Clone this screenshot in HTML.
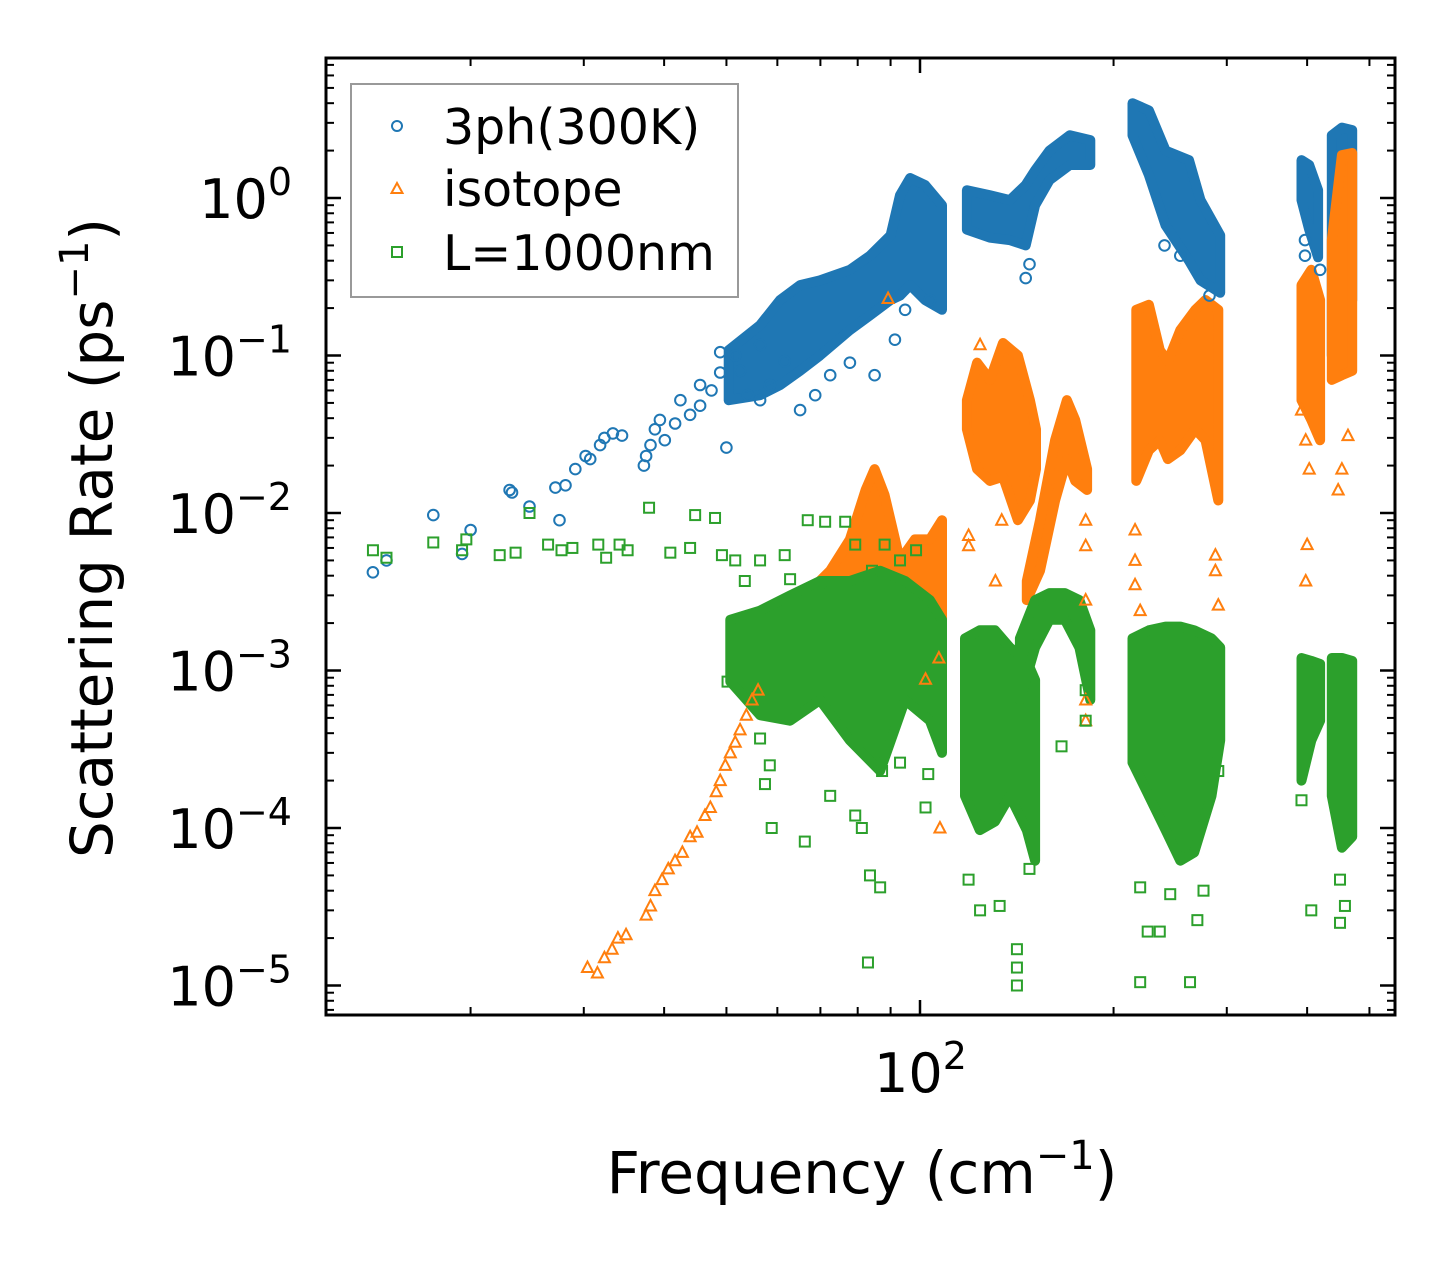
<!DOCTYPE html>
<html><head><meta charset="utf-8"><style>
html,body{margin:0;padding:0;background:#fff;}
svg{display:block;font-family:"DejaVu Sans","Liberation Sans",sans-serif;}
</style></head><body>
<svg id="chart" width="1455" height="1265" viewBox="0 0 1455 1265" xmlns="http://www.w3.org/2000/svg">
<rect width="1455" height="1265" fill="#fff"/>
<g id="blobs"></g>
<g id="marks"></g>
<g id="axes"></g>
<g>
<rect x="351" y="84" width="387" height="213" fill="#fff" fill-opacity="0.85" stroke="#999" stroke-width="2"/>
<circle cx="397" cy="126" r="5" fill="none" stroke="#1f77b4" stroke-width="2"/>
<path d="M397,183 L402.5,193 L391.5,193 Z" fill="none" stroke="#ff7f0e" stroke-width="2"/>
<rect x="392" y="247" width="10" height="10" fill="none" stroke="#2ca02c" stroke-width="2"/>
<text x="443" y="144" font-size="49">3ph(300K)</text>
<text x="443" y="206" font-size="49">isotope</text>
<text x="443" y="270" font-size="49">L=1000nm</text>
</g>
<text x="862" y="1193" font-size="58" text-anchor="middle">Frequency (cm<tspan dy="-24" font-size="40">−1</tspan><tspan dy="24">)</tspan></text>
<text transform="translate(112,538) rotate(-90)" font-size="58" text-anchor="middle">Scattering Rate (ps<tspan dy="-24" font-size="40">−1</tspan><tspan dy="24">)</tspan></text>
</svg>
<script>
// ---- data ----
const blueF=[14.1,14.8,17.5,20,19.4,23,23.2,24.7,27.1,27.5,28.1,29.1,30.2,30.7,31.8,32.3,33.3,34.4,37.2,37.5,38.1,38.7,39.4,40.1,41.6,42.4,43.9,45.5,45.5,47.4,48.9,50,52.5,54,56.4,58.4,61.6,65.1,68.7,72.5,77.8,85,91.4,94.8,103.6,56.4,48.9,51.6,146,148,240,254,282,397,397,419];
const blueR=[0.0042,0.005,0.0097,0.0078,0.0055,0.014,0.0135,0.011,0.0145,0.009,0.015,0.019,0.023,0.022,0.027,0.030,0.032,0.031,0.020,0.023,0.027,0.034,0.039,0.029,0.037,0.052,0.042,0.048,0.065,0.06,0.078,0.026,0.08,0.056,0.052,0.065,0.092,0.045,0.056,0.075,0.09,0.075,0.126,0.195,0.225,0.117,0.105,0.10,0.31,0.38,0.5,0.43,0.24,0.54,0.43,0.35];
const orangeF=[30.4,31.5,32.3,33.2,33.9,34.9,37.5,38.1,38.7,39.7,40.6,41.6,42.7,43.9,45,46.3,47.2,48.2,48.9,49.8,50.7,51.6,52.5,53.7,54.8,56,89.2,107.4,124,119,119,134,131,181,181,181,181,181,216,216,216,220,288,288,291,398,392,398,403,447,453,463,400,107,102];
const orangeR=[1.3e-5,1.2e-5,1.5e-5,1.7e-5,2.0e-5,2.1e-5,2.8e-5,3.2e-5,4.0e-5,4.7e-5,5.5e-5,6.2e-5,7e-5,8.8e-5,9.4e-5,1.2e-4,1.35e-4,1.7e-4,2e-4,2.5e-4,3e-4,3.5e-4,4.2e-4,5.2e-4,6.5e-4,7.5e-4,0.23,1.0e-4,0.117,0.0072,0.0062,0.009,0.0037,0.009,0.0062,0.0028,0.00048,0.00065,0.0078,0.005,0.0035,0.0024,0.0054,0.0043,0.0026,0.0037,0.045,0.029,0.019,0.014,0.019,0.031,0.0063,0.0012,0.00088];
const greenF=[14.1,14.8,17.5,19.7,19.4,22.2,23.5,24.7,26.4,27.7,28.8,31.6,32.5,34.1,35.1,37.9,40.9,43.9,44.7,48,49.2,51.6,56.4,53.4,61.6,62.8,66.9,71.2,76.5,72.5,79.3,84.2,88.1,93.1,98.6,50.2,56.4,58.4,57.4,58.8,66.2,72.5,79.3,81.2,83,83.6,86.7,87.3,93.1,103,102,119,124,133,141.5,141.5,141.5,148,166,181,181,220,226,236,220,245,263,270,276,291,406,392,450,458,450];
const greenR=[0.0058,0.0052,0.0065,0.0068,0.0058,0.0054,0.0056,0.010,0.0063,0.0058,0.006,0.0063,0.0052,0.0063,0.0058,0.0108,0.0056,0.006,0.0097,0.0093,0.0054,0.005,0.005,0.0037,0.0054,0.0038,0.009,0.0088,0.0088,0.0036,0.0063,0.0043,0.0063,0.005,0.0058,8.5e-4,3.7e-4,2.5e-4,1.9e-4,1.0e-4,8.2e-5,1.6e-4,1.2e-4,1.0e-4,1.4e-5,5e-5,4.2e-5,2.3e-4,2.6e-4,2.2e-4,1.35e-4,4.7e-5,3e-5,3.2e-5,1.3e-5,1.0e-5,1.7e-5,5.5e-5,3.3e-4,4.8e-4,7.5e-4,1.05e-5,2.2e-5,2.2e-5,4.2e-5,3.8e-5,1.05e-5,2.6e-5,4.0e-5,2.3e-4,3e-5,1.5e-4,2.5e-5,3.2e-5,4.7e-5];

// dense clusters: frequency, upper and lower rate envelope
const blueB1F=[50.4,56.4,60.6,65.1,69.9,77.8,83.6,90,93.1,96.5,101.8,108.2];
const blueB1Hi=[0.108,0.156,0.225,0.28,0.30,0.35,0.43,0.58,1.04,1.34,1.21,0.9];
const blueB1Lo=[0.052,0.056,0.065,0.08,0.10,0.145,0.18,0.225,0.24,0.28,0.225,0.195];
const blueB2F=[118.3,128.5,138,146,151,159,171,184];
const blueB2Hi=[1.12,1.04,0.97,1.21,1.5,2.0,2.5,2.33];
const blueB2Lo=[0.63,0.56,0.54,0.5,0.9,1.3,1.62,1.62];
const blueB3F=[214,227,241,262,273,293];
const blueB3Hi=[4.0,3.6,2.0,1.74,0.97,0.58];
const blueB3Lo=[2.5,1.4,0.67,0.4,0.3,0.25];
const blueB4F=[392,403,416];
const blueB4Hi=[1.74,1.62,1.12];
const blueB4Lo=[0.97,0.63,0.42];
const blueB5F=[437,453,470];
const blueB5Hi=[2.5,2.8,2.7];
const blueB5Lo=[0.1,0.092,0.225];

const orangeB1F=[56.4,62.8,67.4,72.5,77.8,82.3,85,88.1,93.1,98.2,103.6,108.2];
const orangeB1Hi=[7.5e-4,2.1e-3,3.2e-3,4.3e-3,6.8e-3,1.4e-2,1.9e-2,1.3e-2,5e-3,6.8e-3,6.8e-3,9e-3];
const orangeB1Lo=[6.5e-4,7e-4,7e-4,7.5e-4,7.5e-4,7.5e-4,7e-4,7e-4,6.5e-4,6e-4,5.5e-4,5e-4];
const orangeB2F=[118.3,122.7,128.5,134.6,142,148.2,151.5];
const orangeB2Hi=[0.052,0.09,0.07,0.12,0.10,0.052,0.034];
const orangeB2Lo=[0.034,0.019,0.016,0.017,0.009,0.012,0.019];
const orangeB3F=[146.6,153.7,162.2,169.2,174.3,181.9];
const orangeB3Hi=[0.0037,0.009,0.029,0.052,0.039,0.019];
const orangeB3Lo=[0.0028,0.0043,0.012,0.022,0.016,0.014];
const orangeB4F=[217,227,236,243,254,268,278,291];
const orangeB4Hi=[0.195,0.21,0.108,0.092,0.145,0.195,0.225,0.195];
const orangeB4Lo=[0.016,0.025,0.029,0.022,0.025,0.034,0.029,0.012];
const orangeB5F=[392,406,419];
const orangeB5Hi=[0.28,0.35,0.225];
const orangeB5Lo=[0.052,0.039,0.029];
const orangeB6F=[437,453,470];
const orangeB6Hi=[0.54,1.87,1.93];
const orangeB6Lo=[0.07,0.075,0.08];

const greenB1F=[50.7,56.4,62.8,69.9,77.8,86.7,94.8,103.6,108.2];
const greenB1Hi=[2.1e-3,2.4e-3,3.0e-3,3.7e-3,3.7e-3,4.3e-3,3.7e-3,2.8e-3,2.1e-3];
const greenB1Lo=[8.5e-4,5.2e-4,4.8e-4,6.5e-4,3.6e-4,2.3e-4,6.5e-4,4.8e-4,3.0e-4];
const greenB2F=[117.5,123.9,130.8,138,146.6,151];
const greenB2Hi=[1.6e-3,1.8e-3,1.8e-3,1.4e-3,1.15e-3,8.7e-4];
const greenB2Lo=[1.6e-4,9.7e-5,1.1e-4,1.6e-4,9.7e-5,6.2e-5];
const greenB3F=[143,151,159,168,177,184];
const greenB3Hi=[1.6e-3,2.8e-3,3.1e-3,3.1e-3,2.8e-3,1.8e-3];
const greenB3Lo=[6.5e-4,1.4e-3,2.1e-3,2.1e-3,1.4e-3,6.5e-4];
const greenB4F=[214,227,241,254,267,284,293];
const greenB4Hi=[1.6e-3,1.8e-3,1.9e-3,1.9e-3,1.8e-3,1.6e-3,1.4e-3];
const greenB4Lo=[2.6e-4,1.6e-4,9.7e-5,6.2e-5,7e-5,1.6e-4,3.6e-4];
const greenB5F=[392,406,419];
const greenB5Hi=[1.2e-3,1.15e-3,1.1e-3];
const greenB5Lo=[2e-4,3.6e-4,4.8e-4];
const greenB6F=[437,453,470];
const greenB6Hi=[1.2e-3,1.2e-3,1.15e-3];
const greenB6Lo=[1.6e-4,7.5e-5,8.8e-5];

const yTickExps=[0,-1,-2,-3,-4,-5];
const xMajorTicks=[100];

// ---- axes ----
const L=326,R=1395,T=58,B=1015;
function X(v){return 920+643*Math.log10(v/100);}
function Y(r){return 198-157.5*Math.log10(r);}
const NS="http://www.w3.org/2000/svg";
function mk(tag,attrs,parent){const e=document.createElementNS(NS,tag);for(const k in attrs)e.setAttribute(k,attrs[k]);parent.appendChild(e);return e;}

const C={blue:"#1f77b4",orange:"#ff7f0e",green:"#2ca02c"};
const blobs=document.getElementById('blobs');
function blob(F,Hi,Lo,col,name){
  let d="M"+F.map((f,i)=>X(f).toFixed(1)+","+Y(Hi[i]).toFixed(1)).join(" L");
  for(let i=F.length-1;i>=0;i--)d+=" L"+X(F[i]).toFixed(1)+","+Y(Lo[i]).toFixed(1);
  d+=" Z";
  const p=mk('path',{d:d,fill:col,stroke:col,'stroke-width':10,'stroke-linejoin':'round'},blobs);
  
  
}
const marks=document.getElementById('marks');
function circles(F,Rr,name){
  const g=mk('g',{},marks);
  
  
  F.forEach((f,i)=>{const c=mk('circle',{cx:X(f).toFixed(1),cy:Y(Rr[i]).toFixed(1),r:5.3,fill:'none',stroke:C.blue,'stroke-width':2},g);
    
    });
}
function tris(F,Rr,name){
  const g=mk('g',{},marks);
  
  
  F.forEach((f,i)=>{const x=X(f),y=Y(Rr[i]);const p=mk('path',{d:`M${x},${y-6} L${x+5.5},${y+4.5} L${x-5.5},${y+4.5} Z`,fill:'none',stroke:C.orange,'stroke-width':2},g);
    
    });
}
function squares(F,Rr,name){
  const g=mk('g',{},marks);
  
  
  F.forEach((f,i)=>{const x=X(f),y=Y(Rr[i]);const s=mk('rect',{x:x-5,y:y-5,width:10,height:10,fill:'none',stroke:C.green,'stroke-width':2},g);
    
    });
}
blob(blueB1F,blueB1Hi,blueB1Lo,C.blue,'cluster-3ph-1');
blob(blueB2F,blueB2Hi,blueB2Lo,C.blue,'cluster-3ph-2');
blob(blueB3F,blueB3Hi,blueB3Lo,C.blue,'cluster-3ph-3');
blob(blueB4F,blueB4Hi,blueB4Lo,C.blue,'cluster-3ph-4');
blob(blueB5F,blueB5Hi,blueB5Lo,C.blue,'cluster-3ph-5');
circles(blueF,blueR,'series-3ph');
blob(orangeB1F,orangeB1Hi,orangeB1Lo,C.orange,'cluster-isotope-1');
blob(orangeB2F,orangeB2Hi,orangeB2Lo,C.orange,'cluster-isotope-2');
blob(orangeB3F,orangeB3Hi,orangeB3Lo,C.orange,'cluster-isotope-3');
blob(orangeB4F,orangeB4Hi,orangeB4Lo,C.orange,'cluster-isotope-4');
blob(orangeB5F,orangeB5Hi,orangeB5Lo,C.orange,'cluster-isotope-5');
blob(orangeB6F,orangeB6Hi,orangeB6Lo,C.orange,'cluster-isotope-6');
tris(orangeF,orangeR,'series-isotope');
blob(greenB1F,greenB1Hi,greenB1Lo,C.green,'cluster-boundary-1');
blob(greenB2F,greenB2Hi,greenB2Lo,C.green,'cluster-boundary-2');
blob(greenB3F,greenB3Hi,greenB3Lo,C.green,'cluster-boundary-3');
blob(greenB4F,greenB4Hi,greenB4Lo,C.green,'cluster-boundary-4');
blob(greenB5F,greenB5Hi,greenB5Lo,C.green,'cluster-boundary-5');
blob(greenB6F,greenB6Hi,greenB6Lo,C.green,'cluster-boundary-6');
squares(greenF,greenR,'series-boundary');
const ax=document.getElementById('axes');
function tick(x1,y1,x2,y2,w,name){const l=mk('line',{x1,y1,x2,y2,stroke:'#000','stroke-width':w},ax);
  
  }
for(let e=-6;e<=1;e++){
  for(let m=1;m<10;m++){
    const v=m*Math.pow(10,e);const y=Y(v);
    if(y<T+1||y>B-1)continue;
    const len=m===1?15:8,w=m===1?2.5:2;
    tick(L,y,L+len,y,w,'y-tick-left');
    tick(R,y,R-len,y,w,'y-tick-right');
  }
}
for(let e=1;e<=2;e++){
  for(let m=1;m<10;m++){
    const v=m*Math.pow(10,e);const x=X(v);
    if(x<L+1||x>R-1)continue;
    const len=m===1?15:8,w=m===1?2.5:2;
    tick(x,B,x,B-len,w,'x-tick-bottom');
    tick(x,T,x,T+len,w,'x-tick-top');
  }
}
const fr=mk('rect',{x:L,y:T,width:R-L,height:B-T,fill:'none',stroke:'#000','stroke-width':3},ax);


yTickExps.forEach(e=>{
  const y=Y(Math.pow(10,e));
  const t=mk('text',{x:292,y:y+20,'font-size':54,'text-anchor':'end'},ax);
  
  
  const a=mk('tspan',{},t);a.textContent='10';
  const b=mk('tspan',{dy:-23,'font-size':38},t);b.textContent=(e===0?'0':'−'+(-e));
});
xMajorTicks.forEach(v=>{
  const x=X(v);
  const t=mk('text',{x:x-46,y:1092,'font-size':54},ax);
  
  
  const a=mk('tspan',{},t);a.textContent='10';
  const b=mk('tspan',{dy:-23,'font-size':38},t);b.textContent=String(Math.round(Math.log10(v)));
});
</script>
</body></html>
